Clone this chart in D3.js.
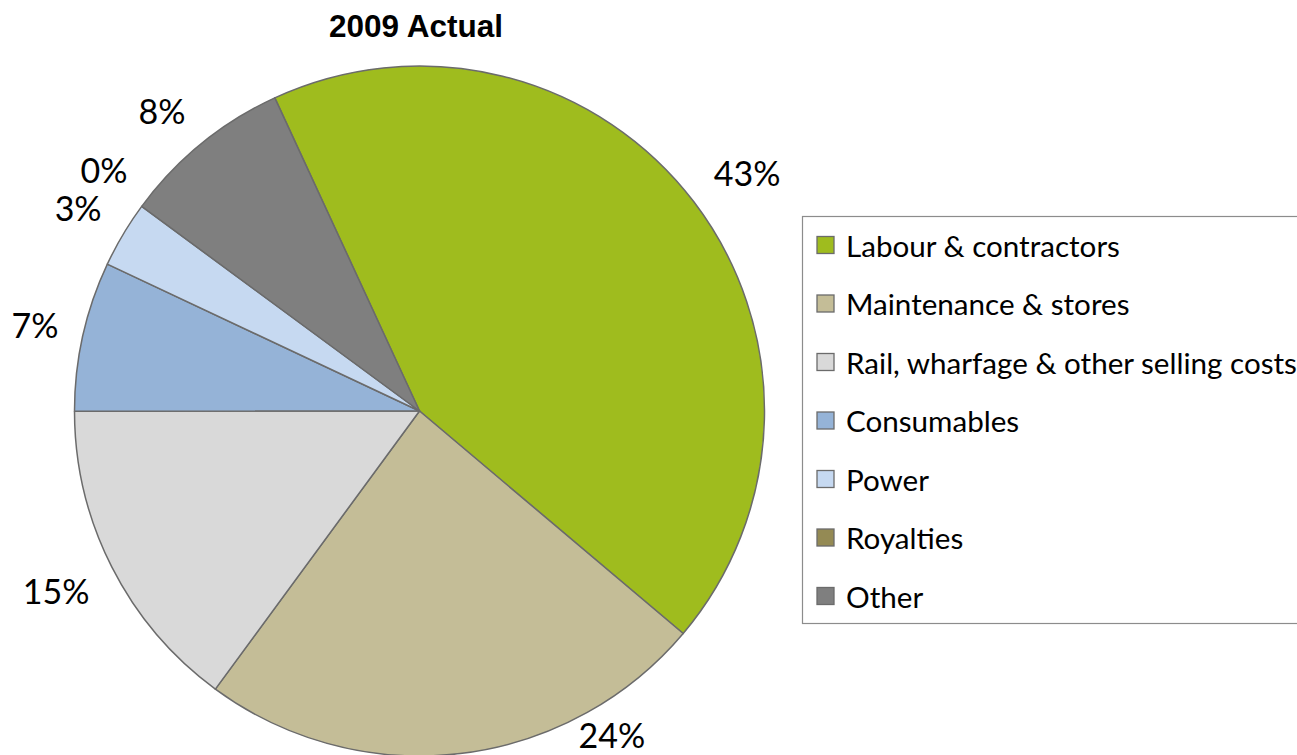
<!DOCTYPE html>
<html>
<head>
<meta charset="utf-8">
<script src="https://cdn.jsdelivr.net/npm/d3@7"></script>
<style>
  html, body { margin: 0; padding: 0; background: #fff; }
  svg { display: block; }
</style>
</head>
<body>
<svg id="chart" width="1297" height="755"></svg>
<script>
// Cost breakdown, share of total (percent)
const categories = [
  "Labour & contractors",
  "Maintenance & stores",
  "Rail, wharfage & other selling costs",
  "Consumables",
  "Power",
  "Royalties",
  "Other"
];
const values = [43.0, 23.9, 14.9, 7.0, 3.1, 0.0, 8.0];
const colors = ["#9fbc1e", "#c4bd97", "#d9d9d9", "#95b3d7", "#c6d9f1", "#948a54", "#7f7f7f"];
const title = "2009 Actual";

const W = 1297, H = 755;
const cx = 419.5, cy = 411, r = 345;
const startDeg = -24.8;

const svg = d3.select("#chart");

svg.append("text")
  .attr("x", 416).attr("y", 37)
  .attr("text-anchor", "middle")
  .attr("font-family", "Liberation Sans, Arial, sans-serif")
  .attr("font-weight", "bold")
  .attr("font-size", 31.5)
  .text(title);

const total = d3.sum(values);
const pie = d3.pie().sort(null).value(d => d)
  .startAngle(startDeg * Math.PI / 180)
  .endAngle((startDeg + 360) * Math.PI / 180);
const arcs = pie(values);
const arc = d3.arc().innerRadius(0).outerRadius(r);

const g = svg.append("g").attr("transform", `translate(${cx},${cy})`);
g.selectAll("path.slice")
  .data(arcs.filter(d => d.value > 0))
  .join("path")
  .attr("class", "slice")
  .attr("d", arc)
  .attr("fill", d => colors[d.index])
  .attr("stroke", "#6b6b6b")
  .attr("stroke-width", 1.5)
  .attr("stroke-linejoin", "round");

// Percentage labels placed outside the rim, box pushed outward along the slice mid-angle
const fmt = d3.format(".0%");
const labelFont = 34;
const labels = svg.append("g")
  .attr("font-family", "Lato, 'Open Sans', sans-serif")
  .attr("font-size", labelFont)
  .attr("fill", "#000");

const clampU = v => Math.max(-1, Math.min(1, v));
arcs.forEach((d, i) => {
  const t = labels.append("text").text(fmt(d.value / total));
  const w = t.node().getComputedTextLength();
  const h = 28;
  let mid = (d.startAngle + d.endAngle) / 2;
  // an empty slice sits on its neighbours' border; lift its label clear of the next one
  if (d.value === 0) mid += 1.5 * Math.PI / 180;
  const s = Math.sin(mid), c = Math.cos(mid);
  const R = r + 25;
  let px = cx + R * s, py = cy - R * c;
  let bx = px + (w / 2) * clampU(s * 2);
  let by = py - (h / 2) * clampU(c * 2);
  const maxY = H - 21;
  if (by > maxY) {
    // keep the label inside the canvas: slide it along the rim
    by = maxY;
    const top = by - h / 2;
    const dy = top - cy;
    const Rc = r + 2.5;
    const dx = Math.sqrt(Math.max(0, Rc * Rc - dy * dy));
    bx = s >= 0 ? cx + dx + w / 2 : cx - dx - w / 2;
  }
  t.attr("x", bx).attr("y", by)
    .attr("text-anchor", "middle")
    .attr("dominant-baseline", "central");
});

// Legend
const legX = 802, legY = 216, legH = 407;
const legend = svg.append("g");
legend.append("rect")
  .attr("x", legX + 0.5).attr("y", legY + 0.5)
  .attr("width", W - legX + 10).attr("height", legH)
  .attr("fill", "#fff")
  .attr("stroke", "#8c8c8c")
  .attr("stroke-width", 1.2);

const rowStep = 58.5, firstRow = 245;
const items = legend.selectAll("g.item")
  .data(categories)
  .join("g")
  .attr("class", "item")
  .attr("transform", (d, i) => `translate(0,${firstRow + i * rowStep})`);

items.append("rect")
  .attr("x", 817).attr("y", -8.5)
  .attr("width", 17).attr("height", 17)
  .attr("fill", (d, i) => colors[i])
  .attr("stroke", "#6b6b6b")
  .attr("stroke-width", 1.3);

const legText = items.append("text")
  .attr("x", 846).attr("y", 0)
  .attr("dominant-baseline", "central")
  .attr("font-family", "Lato, 'Open Sans', sans-serif")
  .attr("font-size", 26)
  .attr("fill", "#000")
  .text(d => d);

// size the legend font so the longest entry fills the available width
const longest = d3.max(legText.nodes(), n => n.getComputedTextLength());
const legFont = 26 * 451 / longest;
legText.attr("font-size", legFont);
</script>
</body>
</html>
